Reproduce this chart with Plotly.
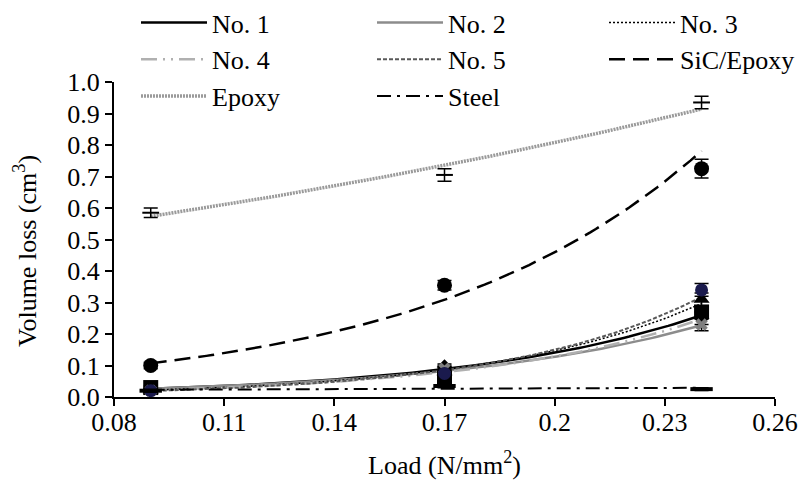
import numpy as np
import plotly.graph_objects as go

# ---- data ----
load = [0.09, 0.17, 0.24]

no1 = [0.025, 0.095, 0.25]
no2 = [0.030, 0.060, 0.27]
no3 = [0.022, 0.080, 0.31]
no4 = [0.020, 0.090, 0.23]
no5 = [0.020, 0.075, 0.34]
sic_epoxy = [0.100, 0.355, 0.725]
epoxy = [0.585, 0.705, 0.935]
steel = [0.020, 0.035, 0.025]

err_no = [0.005, 0.010, 0.020]
err_sic = [0.010, 0.015, 0.030]
err_epoxy = [0.015, 0.020, 0.020]
err_steel = [0.004, 0.006, 0.004]

x_ticks = [0.08, 0.11, 0.14, 0.17, 0.20, 0.23, 0.26]
x_tick_labels = ["0.08", "0.11", "0.14", "0.17", "0.2", "0.23", "0.26"]
y_ticks = [0.0, 0.1, 0.2, 0.3, 0.4, 0.5, 0.6, 0.7, 0.8, 0.9, 1.0]

names = ["No. 1", "No. 2", "No. 3", "No. 4", "No. 5", "SiC/Epoxy", "Epoxy", "Steel"]
values = [no1, no2, no3, no4, no5, sic_epoxy, epoxy, steel]
errors = [err_no, err_no, err_no, err_no, err_no, err_sic, err_epoxy, err_steel]
legend_column = ["legend", "legend2", "legend3", "legend", "legend2", "legend3", "legend", "legend2"]

line_styles = [
    dict(color="#000000", width=2.5, dash="solid"),
    dict(color="#8c8c8c", width=2.5, dash="solid"),
    dict(color="#000000", width=1.5, dash="2px,2px"),
    dict(color="#b0b0b0", width=2.5, dash="16px,6px,2px,6px,2px,6px"),
    dict(color="#595959", width=2, dash="4px,2px"),
    dict(color="#000000", width=2.5, dash="16px,8px"),
    dict(color="#9a9a9a", width=3.5, dash="2px,1px"),
    dict(color="#000000", width=2, dash="14px,6px,3px,6px"),
]
marker_styles = [
    dict(symbol="diamond", size=12, color="#000000"),
    dict(symbol="square", size=15, color="#000000"),
    dict(symbol="triangle-up", size=14, color="#000000"),
    dict(symbol="x", size=11, color="#7f7f7f"),
    dict(symbol="circle", size=13, color="#1a1a4d"),
    dict(symbol="circle", size=15, color="#000000"),
    dict(symbol="line-ew", size=12, color="#000000", line=dict(width=2, color="#000000")),
    dict(symbol="line-ew", size=16, color="#000000", line=dict(width=4, color="#000000")),
]

fig = go.Figure()

xs = np.array(load)
x_dense = np.linspace(min(load), max(load), 100)

# exponential trendlines (least squares on ln y), as in the original chart
for name, vals, ls, lg in zip(names, values, line_styles, legend_column):
    b, ln_a = np.polyfit(xs, np.log(np.array(vals)), 1)
    fit = np.exp(ln_a) * np.exp(b * x_dense)
    fig.add_trace(go.Scatter(x=x_dense, y=fit, mode="lines", name=name, line=ls,
                             showlegend=True, legend=lg))

# measured points with error bars
for name, vals, err, ms in zip(names, values, errors, marker_styles):
    fig.add_trace(go.Scatter(
        x=load, y=vals, mode="markers", name=name + " data", marker=ms,
        error_y=dict(type="data", array=err, visible=True, color="#000000",
                     thickness=1.5, width=7),
        showlegend=False,
    ))

font_family = "Liberation Serif"
FS = 26

W, H = 790, 472
ML, MR, MT, MB = 106, 23, 74, 83
PW, PH = W - ML - MR, H - MT - MB
ITEMW = 66
LEGEND_TOP = -9  # px from top of figure
YTITLE_X, YTITLE_Y = 17, 243  # px in figure


def legend_box(left_px):
    return dict(
        orientation="v", xref="paper", yref="paper",
        x=(left_px - ML) / PW, y=1 + (MT - LEGEND_TOP) / PH,
        xanchor="left", yanchor="top",
        font=dict(size=FS, family=font_family), bgcolor="rgba(0,0,0,0)",
        traceorder="normal", borderwidth=0, itemwidth=ITEMW,
    )


fig.update_layout(
    width=W, height=H,
    margin=dict(l=ML, r=MR, t=MT, b=MB, autoexpand=False),
    paper_bgcolor="white", plot_bgcolor="white",
    font=dict(family=font_family, size=FS, color="#000000"),
    legend=legend_box(128),
    legend2=legend_box(364),
    legend3=legend_box(596),
    xaxis=dict(
        range=[0.08, 0.26], tickvals=x_ticks, ticktext=x_tick_labels,
        showgrid=False, zeroline=False, showline=True, linecolor="#000000",
        linewidth=2, ticks="outside", ticklen=7, tickwidth=2, tickcolor="#000000",
        title=dict(text="Load (N/mm<sup>2</sup>)", standoff=24,
                   font=dict(size=FS, family=font_family)),
        tickfont=dict(size=FS, family=font_family),
        ticklabelstandoff=-6, ticklabeloverflow="allow",
    ),
    yaxis=dict(
        range=[0, 1.0], tickvals=y_ticks, tickformat=".1f",
        showgrid=False, zeroline=False, showline=True, linecolor="#000000",
        linewidth=2, ticks="outside", ticklen=7, tickwidth=2, tickcolor="#000000",
        tickfont=dict(size=FS, family=font_family),
    ),
    annotations=[dict(
        text="Volume loss (cm<sup>3</sup>)", textangle=-90,
        xref="paper", yref="paper",
        x=(YTITLE_X - ML) / PW, y=(MT + PH - YTITLE_Y) / PH,
        xanchor="center", yanchor="middle", showarrow=False,
        font=dict(size=FS, family=font_family),
    )],
)

fig.write_html("out.html")
